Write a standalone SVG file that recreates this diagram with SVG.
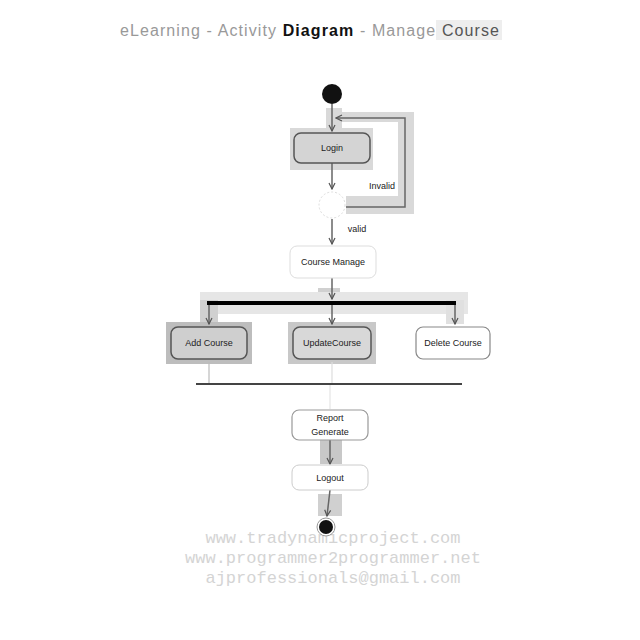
<svg xmlns="http://www.w3.org/2000/svg" width="640" height="640" viewBox="0 0 640 640">
<defs>
<style>
.t{font-family:"Liberation Sans",Arial,sans-serif;font-size:9px;fill:#222;text-anchor:middle}
.act{stroke:#555;stroke-width:1.5}
.hl{fill:#d9d9d9}
.ln{stroke:#666;stroke-width:1.5;fill:none}
.wm{font-family:"Liberation Mono","Courier New",monospace;font-size:17px;fill:#d4d4d4;text-anchor:middle}
</style>
<marker id="ah" markerWidth="8" markerHeight="8" refX="7" refY="4" orient="auto" markerUnits="userSpaceOnUse">
<path d="M1,1 L7,4 L1,7" fill="none" stroke="#555" stroke-width="1.2"/>
</marker>
</defs>
<rect width="640" height="640" fill="#fff"/>
<g id="title">
<rect x="436" y="20" width="66" height="20" fill="#eeeeee"/>
<text x="310" y="36" font-family="'Liberation Sans',Arial,sans-serif" font-size="16" letter-spacing="1.1" text-anchor="middle" fill="#999">eLearning - Activity <tspan font-weight="bold" fill="#111">Diagram</tspan> - Manage <tspan fill="#555">Course</tspan></text>
</g>
<g id="watermark">
<text x="333" y="543" class="wm">www.tradynamicproject.com</text>
<text x="333" y="563" class="wm">www.programmer2programmer.net</text>
<text x="333" y="583" class="wm">ajprofessionals@gmail.com</text>
</g>
<g id="highlights">
<rect class="hl" x="326" y="108" width="16" height="24"/>
<rect class="hl" x="290" y="128" width="83" height="42"/>
<rect class="hl" x="338" y="112" width="72" height="10" fill="#e4e4e4"/>
<rect class="hl" x="398" y="112" width="16" height="102"/>
<rect class="hl" x="346" y="196" width="68" height="18" fill="#e8e8e8"/>
<rect x="318" y="288" width="22" height="18" fill="#d0d0d0"/>
<rect x="200" y="292" width="268" height="22" fill="#e6e6e6"/>
<rect x="200" y="300" width="18" height="24" fill="#d0d0d0"/>
<rect x="446" y="300" width="18" height="24" fill="#e0e0e0"/>
<rect x="166" y="322" width="86" height="42" fill="#bdbdbd"/>
<rect x="288" y="322" width="88" height="42" fill="#c8c8c8"/>
<rect x="320" y="440" width="22" height="24" fill="#c8c8c8"/>
<rect x="318" y="494" width="24" height="22" fill="#d0d0d0"/>
</g>
<g id="connectors">
<line class="ln" x1="332" y1="104" x2="332" y2="131" marker-end="url(#ah)"/>
<line class="ln" x1="332" y1="163" x2="332" y2="189" marker-end="url(#ah)"/>
<polyline class="ln" points="346,207 405,207 405,118 336,118" marker-end="url(#ah)"/>
<line class="ln" x1="332" y1="219" x2="332" y2="244" marker-end="url(#ah)"/>
<line class="ln" x1="332" y1="278" x2="332" y2="299" marker-end="url(#ah)"/>
<line x1="207" y1="303" x2="456" y2="303" stroke="#000" stroke-width="4"/>
<line class="ln" x1="209" y1="305" x2="209" y2="324" marker-end="url(#ah)"/>
<line class="ln" x1="332" y1="305" x2="332" y2="324" marker-end="url(#ah)"/>
<line class="ln" x1="455" y1="305" x2="455" y2="324" marker-end="url(#ah)"/>
<line x1="209" y1="362" x2="209" y2="383" stroke="#bbb" stroke-width="1.2"/>
<line x1="332" y1="362" x2="332" y2="383" stroke="#ddd" stroke-width="1.2"/>
<line x1="196" y1="384" x2="462" y2="384" stroke="#444" stroke-width="2"/>
<line x1="330" y1="385" x2="330" y2="409" stroke="#e4e4e4" stroke-width="1.2"/>
<line class="ln" x1="330" y1="440" x2="330" y2="464" marker-end="url(#ah)"/>
<line class="ln" x1="330" y1="490" x2="327" y2="516" marker-end="url(#ah)"/>
<text x="382" y="189" class="t">Invalid</text>
<text x="357" y="232" class="t">valid</text>
</g>
<g id="start"><circle cx="332" cy="94" r="10" fill="#111"/></g>
<g id="login">
<rect x="294" y="133" width="76" height="30" rx="7" fill="#d4d4d4" class="act"/>
<text x="332" y="151" class="t">Login</text>
</g>
<g id="decision">
<circle cx="332" cy="205" r="13" fill="#fff" stroke="#ddd" stroke-dasharray="2,2"/>
</g>
<g id="courseManage">
<rect x="290" y="246" width="86" height="32" rx="7" fill="#fff" stroke="#ddd"/>
<text x="333" y="265" class="t" fill="#666">Course Manage</text>
</g>
<g id="addCourse">
<rect x="171" y="327" width="76" height="32" rx="7" fill="#cfcfcf" class="act"/>
<text x="209" y="346" class="t">Add Course</text>
</g>
<g id="updateCourse">
<rect x="293" y="327" width="78" height="32" rx="7" fill="#d8d8d8" class="act"/>
<text x="332" y="346" class="t">UpdateCourse</text>
</g>
<g id="deleteCourse">
<rect x="416" y="327" width="74" height="32" rx="7" fill="#fff" stroke="#888" stroke-width="1.2"/>
<text x="453" y="346" class="t">Delete Course</text>
</g>
<g id="report">
<rect x="292" y="410" width="76" height="30" rx="7" fill="#fff" stroke="#999" stroke-width="1.2"/>
<text x="330" y="421" class="t">Report</text>
<text x="330" y="435" class="t">Generate</text>
</g>
<g id="logout">
<rect x="292" y="465" width="76" height="25" rx="7" fill="#fff" stroke="#ccc"/>
<text x="330" y="481" class="t">Logout</text>
</g>
<g id="end">
<circle cx="326" cy="527" r="9" fill="#fff" stroke="#999"/>
<circle cx="326" cy="527" r="7" fill="#111"/>
</g>
</svg>
